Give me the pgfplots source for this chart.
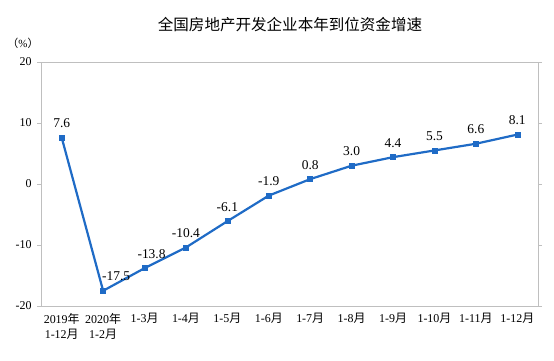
\documentclass[border=0pt]{standalone}
\usepackage{pgfplots}
\pgfplotsset{compat=1.18}
\usepackage{fontspec}
\setmainfont{Liberation Serif}
\newfontfamily\cjk{Noto Sans CJK SC}
\definecolor{lineblue}{HTML}{1F6BC6}
\definecolor{axgray}{HTML}{BFBFBF}
\begin{document}
\begin{tikzpicture}[x=1bp,y=1bp]
\useasboundingbox (0,0) rectangle (554,360);
\node[font=\fontsize{15.6}{17}\selectfont\cjk] at (290,335) {全国房地产开发企业本年到位资金增速};
\node[font=\fontsize{11}{12}\selectfont] at (23,317) {{\cjk （}\%{\cjk ）}};
\begin{axis}[
  at={(41bp,54bp)}, anchor=south west,
  scale only axis, width=497bp, height=244bp,
  xmin=-0.5, xmax=11.5, ymin=-20, ymax=20,
  ytick={-20,-10,0,10,20},
  xtick={0,...,11},
  xticklabels={{2019{\cjk 年}\\1-12{\cjk 月}},{2020{\cjk 年}\\1-2{\cjk 月}},1-3{\cjk 月},1-4{\cjk 月},1-5{\cjk 月},1-6{\cjk 月},1-7{\cjk 月},1-8{\cjk 月},1-9{\cjk 月},1-10{\cjk 月},1-11{\cjk 月},1-12{\cjk 月}},
  x tick label style={align=center, anchor=north, font=\fontsize{12}{14.5}\selectfont, yshift=-4bp},
  y tick label style={font=\fontsize{12}{13}\selectfont, xshift=-2bp},
  major x tick style={draw=none},
  extra x ticks={0.5,1.5,...,10.5},
  extra x tick labels={},
  extra x tick style={major tick length=4bp, tick style={draw=axgray}, tick align=inside},
  ytick align=outside, major tick length=4bp,
  ytick style={draw=axgray},
  axis line style={draw=axgray},
  /pgf/number format/assume math mode=true,
  clip=false,
]
\addplot[color=lineblue, line width=2.2bp, mark=square*, mark size=2.5bp,
  mark options={fill=lineblue, draw=lineblue, line width=0.5bp},
  nodes near coords,
  point meta=explicit symbolic,
  every node near coord/.style={anchor=south, font=\fontsize{13.5}{15}\selectfont, text=black, yshift=6bp},
  coordinate style/.condition={x==1}{xshift=13bp},
  coordinate style/.condition={x==2}{xshift=7bp},
] table[meta=lab] {
x y lab
0 7.6 7.6
1 -17.5 -17.5
2 -13.8 -13.8
3 -10.4 -10.4
4 -6.1 -6.1
5 -1.9 -1.9
6 0.8 0.8
7 3.0 3.0
8 4.4 4.4
9 5.5 5.5
10 6.6 6.6
11 8.1 8.1
};
\end{axis}
\end{tikzpicture}
\end{document}
